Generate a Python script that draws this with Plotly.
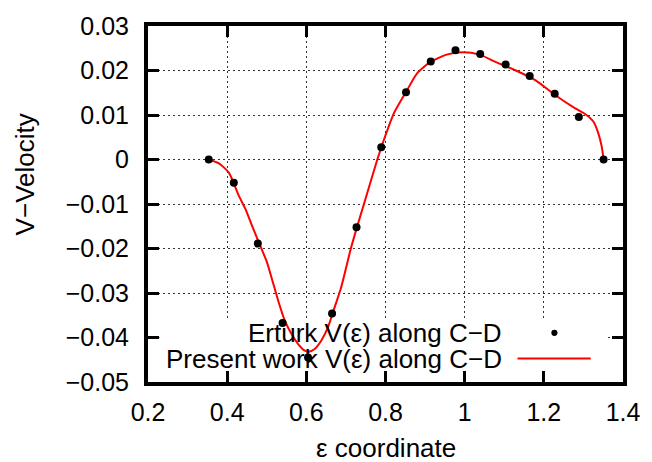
import plotly.graph_objects as go

# Erturk reference points
erturk_x = [0.3535, 0.4168, 0.4775, 0.540, 0.6043, 0.665, 0.7268, 0.7893, 0.8518,
            0.9143, 0.9768, 1.0393, 1.1035, 1.1643, 1.2275, 1.2885, 1.351]
erturk_y = [0.0, -0.00524, -0.01889, -0.03673, -0.04451, -0.03458, -0.01524, 0.00276,
            0.01511, 0.0220, 0.02453, 0.02371, 0.02133, 0.01876, 0.01475, 0.00956, 0.0]

# Present work curve
present_x = [0.3535, 0.3793, 0.4043, 0.4293, 0.446, 0.4625, 0.4793, 0.500, 0.5125, 0.5293,
             0.546, 0.5625, 0.5793, 0.596, 0.606, 0.621, 0.6375, 0.6543, 0.671, 0.6875,
             0.7125, 0.7293, 0.7543, 0.7793, 0.796, 0.821, 0.8543, 0.8793, 0.9125, 0.9543,
             0.996, 1.0375, 1.0793, 1.1293, 1.1793, 1.2293, 1.2793, 1.3043, 1.325, 1.3375,
             1.346, 1.351]
present_y = [0.0, -0.00089, -0.00296, -0.00813, -0.01111, -0.01480, -0.01851, -0.02296,
             -0.02667, -0.03184, -0.03629, -0.03924, -0.04147, -0.04296, -0.04318, -0.04258,
             -0.04073, -0.03778, -0.03333, -0.02889, -0.0200, -0.01480, -0.00740, 0.0,
             0.00444, 0.01038, 0.01556, 0.0193, 0.02187, 0.02356, 0.02409, 0.02356, 0.02187,
             0.0200, 0.01778, 0.01444, 0.01149, 0.01022, 0.00853, 0.00593, 0.0030, 0.0]

x_ticks = [0.2, 0.4, 0.6, 0.8, 1.0, 1.2, 1.4]
y_ticks = [0.03, 0.02, 0.01, 0.0, -0.01, -0.02, -0.03, -0.04, -0.05]

legend_labels = ["Erturk V(ε) along C−D", "Present work V(ε) along C−D"]

FONT = "Liberation Sans, Arial, sans-serif"
TICK_SIZE = 25
TEXT_SIZE = 26

fig = go.Figure()
fig.add_trace(go.Scatter(x=present_x, y=present_y, mode="lines",
                         line=dict(color="#ff0000", width=2, shape="spline", smoothing=0.6),
                         showlegend=False))
fig.add_trace(go.Scatter(x=erturk_x, y=erturk_y, mode="markers",
                         marker=dict(color="black", size=8),
                         showlegend=False))

axis_common = dict(
    showline=True, linecolor="black", linewidth=4, mirror="ticks",
    ticks="inside", ticklen=11, tickwidth=3, tickcolor="black",
    showgrid=True, gridcolor="#333333", gridwidth=1, griddash="2px,3px",
    zeroline=False,
    tickfont=dict(family=FONT, size=TICK_SIZE, color="black"),
)

fig.update_xaxes(range=[0.2, 1.4], tickvals=x_ticks, ticklabelstandoff=5, **axis_common)
fig.update_yaxes(range=[-0.05, 0.03], tickvals=y_ticks, ticklabelstandoff=10, **axis_common)

# white region behind legend (hides grid like gnuplot key box)
fig.add_shape(type="rect", xref="x", yref="y", x0=0.229, x1=1.357, y0=-0.0497, y1=-0.0358,
              fillcolor="white", line=dict(width=0), layer="between")

# legend texts
fig.add_annotation(xref="paper", yref="paper", x=0.749, y=0.138, text=legend_labels[0],
                   showarrow=False, xanchor="right", yanchor="middle",
                   font=dict(family=FONT, size=TEXT_SIZE, color="black"))
fig.add_annotation(xref="paper", yref="paper", x=0.749, y=0.066, text=legend_labels[1],
                   showarrow=False, xanchor="right", yanchor="middle",
                   font=dict(family=FONT, size=TEXT_SIZE, color="black"))
# legend samples
fig.add_shape(type="circle", xref="paper", yref="paper",
              x0=0.8556 - 0.0065, x1=0.8556 + 0.0065, y0=0.138 - 0.0087, y1=0.138 + 0.0087,
              fillcolor="black", line=dict(width=0), layer="above")
fig.add_shape(type="line", xref="paper", yref="paper", x0=0.778, x1=0.932, y0=0.066, y1=0.066,
              line=dict(color="#ff0000", width=2), layer="above")

# axis titles
fig.add_annotation(xref="paper", yref="paper", x=-0.257, y=0.583, text="V−Velocity",
                   textangle=-90, showarrow=False, xanchor="center", yanchor="middle",
                   font=dict(family=FONT, size=TEXT_SIZE, color="black"))
fig.add_annotation(xref="paper", yref="paper", x=0.5, y=-0.184, text="ε coordinate",
                   showarrow=False, xanchor="center", yanchor="middle",
                   font=dict(family=FONT, size=TEXT_SIZE, color="black"))

fig.update_layout(
    width=652, height=462,
    margin=dict(l=148, r=24, t=22, b=80),
    paper_bgcolor="white", plot_bgcolor="white",
    showlegend=False,
)

fig.write_html("out.html")
